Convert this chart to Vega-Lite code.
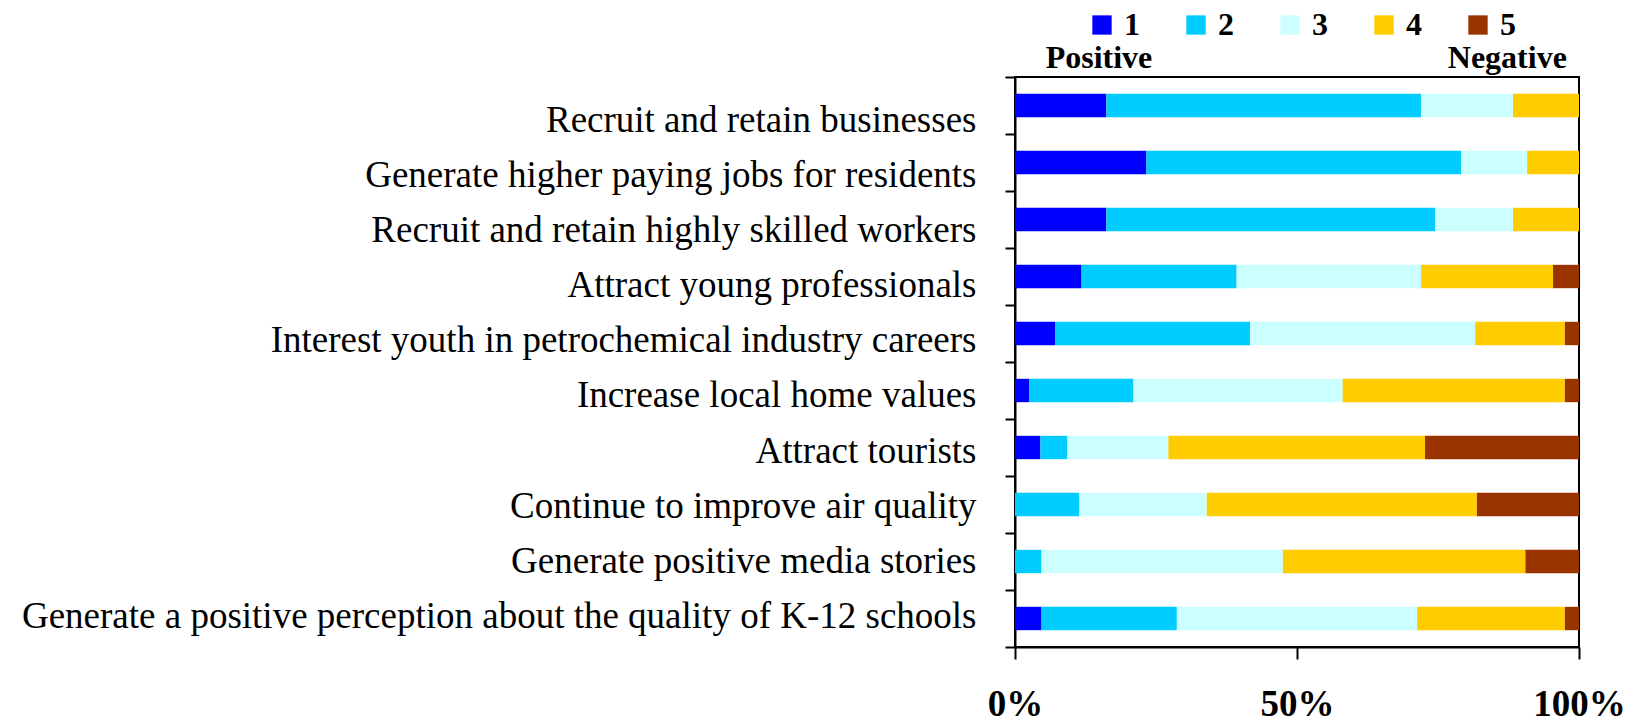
{
  "$schema": "https://vega.github.io/schema/vega-lite/v6.json",
  "width": 564,
  "height": 570,
  "autosize": {"type": "none"},
  "padding": {"left": 1015, "top": 77, "right": 53, "bottom": 75},
  "background": "white",
  "config": {
    "view": {"stroke": "black", "strokeWidth": 2},
    "font": "Liberation Serif"
  },
  "data": {
    "values": [
      {"item": "Recruit and retain businesses", "rating": "1", "value": 16.2},
      {"item": "Recruit and retain businesses", "rating": "2", "value": 55.8},
      {"item": "Recruit and retain businesses", "rating": "3", "value": 16.3},
      {"item": "Recruit and retain businesses", "rating": "4", "value": 11.7},
      {"item": "Recruit and retain businesses", "rating": "5", "value": 0},
      {"item": "Generate higher paying jobs for residents", "rating": "1", "value": 23.3},
      {"item": "Generate higher paying jobs for residents", "rating": "2", "value": 55.8},
      {"item": "Generate higher paying jobs for residents", "rating": "3", "value": 11.7},
      {"item": "Generate higher paying jobs for residents", "rating": "4", "value": 9.2},
      {"item": "Generate higher paying jobs for residents", "rating": "5", "value": 0},
      {"item": "Recruit and retain highly skilled workers", "rating": "1", "value": 16.2},
      {"item": "Recruit and retain highly skilled workers", "rating": "2", "value": 58.3},
      {"item": "Recruit and retain highly skilled workers", "rating": "3", "value": 13.8},
      {"item": "Recruit and retain highly skilled workers", "rating": "4", "value": 11.7},
      {"item": "Recruit and retain highly skilled workers", "rating": "5", "value": 0},
      {"item": "Attract young professionals", "rating": "1", "value": 11.8},
      {"item": "Attract young professionals", "rating": "2", "value": 27.5},
      {"item": "Attract young professionals", "rating": "3", "value": 32.7},
      {"item": "Attract young professionals", "rating": "4", "value": 23.4},
      {"item": "Attract young professionals", "rating": "5", "value": 4.6},
      {"item": "Interest youth in petrochemical industry careers", "rating": "1", "value": 7.1},
      {"item": "Interest youth in petrochemical industry careers", "rating": "2", "value": 34.6},
      {"item": "Interest youth in petrochemical industry careers", "rating": "3", "value": 39.9},
      {"item": "Interest youth in petrochemical industry careers", "rating": "4", "value": 15.9},
      {"item": "Interest youth in petrochemical industry careers", "rating": "5", "value": 2.5},
      {"item": "Increase local home values", "rating": "1", "value": 2.5},
      {"item": "Increase local home values", "rating": "2", "value": 18.5},
      {"item": "Increase local home values", "rating": "3", "value": 37.1},
      {"item": "Increase local home values", "rating": "4", "value": 39.4},
      {"item": "Increase local home values", "rating": "5", "value": 2.5},
      {"item": "Attract tourists", "rating": "1", "value": 4.5},
      {"item": "Attract tourists", "rating": "2", "value": 4.8},
      {"item": "Attract tourists", "rating": "3", "value": 17.9},
      {"item": "Attract tourists", "rating": "4", "value": 45.5},
      {"item": "Attract tourists", "rating": "5", "value": 27.3},
      {"item": "Continue to improve air quality", "rating": "1", "value": 0},
      {"item": "Continue to improve air quality", "rating": "2", "value": 11.4},
      {"item": "Continue to improve air quality", "rating": "3", "value": 22.6},
      {"item": "Continue to improve air quality", "rating": "4", "value": 47.9},
      {"item": "Continue to improve air quality", "rating": "5", "value": 18.1},
      {"item": "Generate positive media stories", "rating": "1", "value": 0},
      {"item": "Generate positive media stories", "rating": "2", "value": 4.7},
      {"item": "Generate positive media stories", "rating": "3", "value": 42.8},
      {"item": "Generate positive media stories", "rating": "4", "value": 43.0},
      {"item": "Generate positive media stories", "rating": "5", "value": 9.5},
      {"item": "Generate a positive perception about the quality of K-12 schools", "rating": "1", "value": 4.7},
      {"item": "Generate a positive perception about the quality of K-12 schools", "rating": "2", "value": 24.0},
      {"item": "Generate a positive perception about the quality of K-12 schools", "rating": "3", "value": 42.6},
      {"item": "Generate a positive perception about the quality of K-12 schools", "rating": "4", "value": 26.2},
      {"item": "Generate a positive perception about the quality of K-12 schools", "rating": "5", "value": 2.5}
    ]
  },
  "resolve": {"axis": {"x": "independent"}},
  "layer": [
    {
      "mark": {"type": "bar", "height": {"band": 0.41}},
      "encoding": {
        "y": {
          "field": "item",
          "type": "nominal",
          "sort": null,
          "scale": {"paddingInner": 0, "paddingOuter": 0},
          "axis": {
            "title": null,
            "tickBand": "extent",
            "tickSize": 10,
            "tickWidth": 2,
            "tickColor": "black",
            "domainColor": "black",
            "domainWidth": 2,
            "labelFont": "Liberation Serif",
            "labelFontSize": 37,
            "labelColor": "black",
            "labelPadding": 29,
            "labelLimit": 1100,
            "labelOffset": {"expr": "14.5 - 16.5 * datum.index"}
          }
        },
        "x": {
          "field": "value",
          "type": "quantitative",
          "aggregate": "sum",
          "stack": "zero",
          "scale": {"domain": [0, 100], "nice": false},
          "axis": {
            "title": null,
            "orient": "bottom",
            "values": [0, 50, 100],
            "labelExpr": "datum.value + '%'",
            "grid": false,
            "tickSize": 12,
            "tickWidth": 2,
            "tickColor": "black",
            "domainColor": "black",
            "domainWidth": 2,
            "labelFont": "Liberation Serif",
            "labelFontSize": 37,
            "labelFontWeight": "bold",
            "labelColor": "black",
            "labelBaseline": "alphabetic",
            "labelPadding": 56,
            "labelFlush": false
          }
        },
        "color": {
          "field": "rating",
          "type": "nominal",
          "scale": {
            "domain": ["1", "2", "3", "4", "5"],
            "range": ["#0000FF", "#00CCFF", "#CCFFFF", "#FFCC00", "#993300"]
          },
          "legend": {
            "title": null,
            "orient": "none",
            "direction": "horizontal",
            "legendX": 71,
            "legendY": -68,
            "padding": 0,
            "symbolType": "square",
            "symbolSize": 373,
            "symbolStrokeWidth": 0,
            "symbolOpacity": 1,
            "labelFont": "Liberation Serif",
            "labelFontSize": 32,
            "labelFontWeight": "bold",
            "labelColor": "black",
            "labelOffset": 6,
            "columnPadding": 40
          }
        },
        "order": {"field": "rating", "type": "ordinal", "sort": "ascending"}
      }
    },
    {
      "mark": {"type": "bar", "opacity": 0},
      "encoding": {
        "x": {
          "field": "value",
          "type": "quantitative",
          "aggregate": "sum",
          "axis": {
            "title": null,
            "orient": "top",
            "values": [14.8, 87.2],
            "labelExpr": "datum.value < 50 ? 'Positive' : 'Negative'",
            "grid": false,
            "ticks": false,
            "tickSize": 0,
            "domain": false,
            "labelFont": "Liberation Serif",
            "labelFontSize": 32,
            "labelFontWeight": "bold",
            "labelColor": "black",
            "labelBaseline": "alphabetic",
            "labelPadding": 10,
            "labelFlush": false
          }
        }
      }
    }
  ]
}
